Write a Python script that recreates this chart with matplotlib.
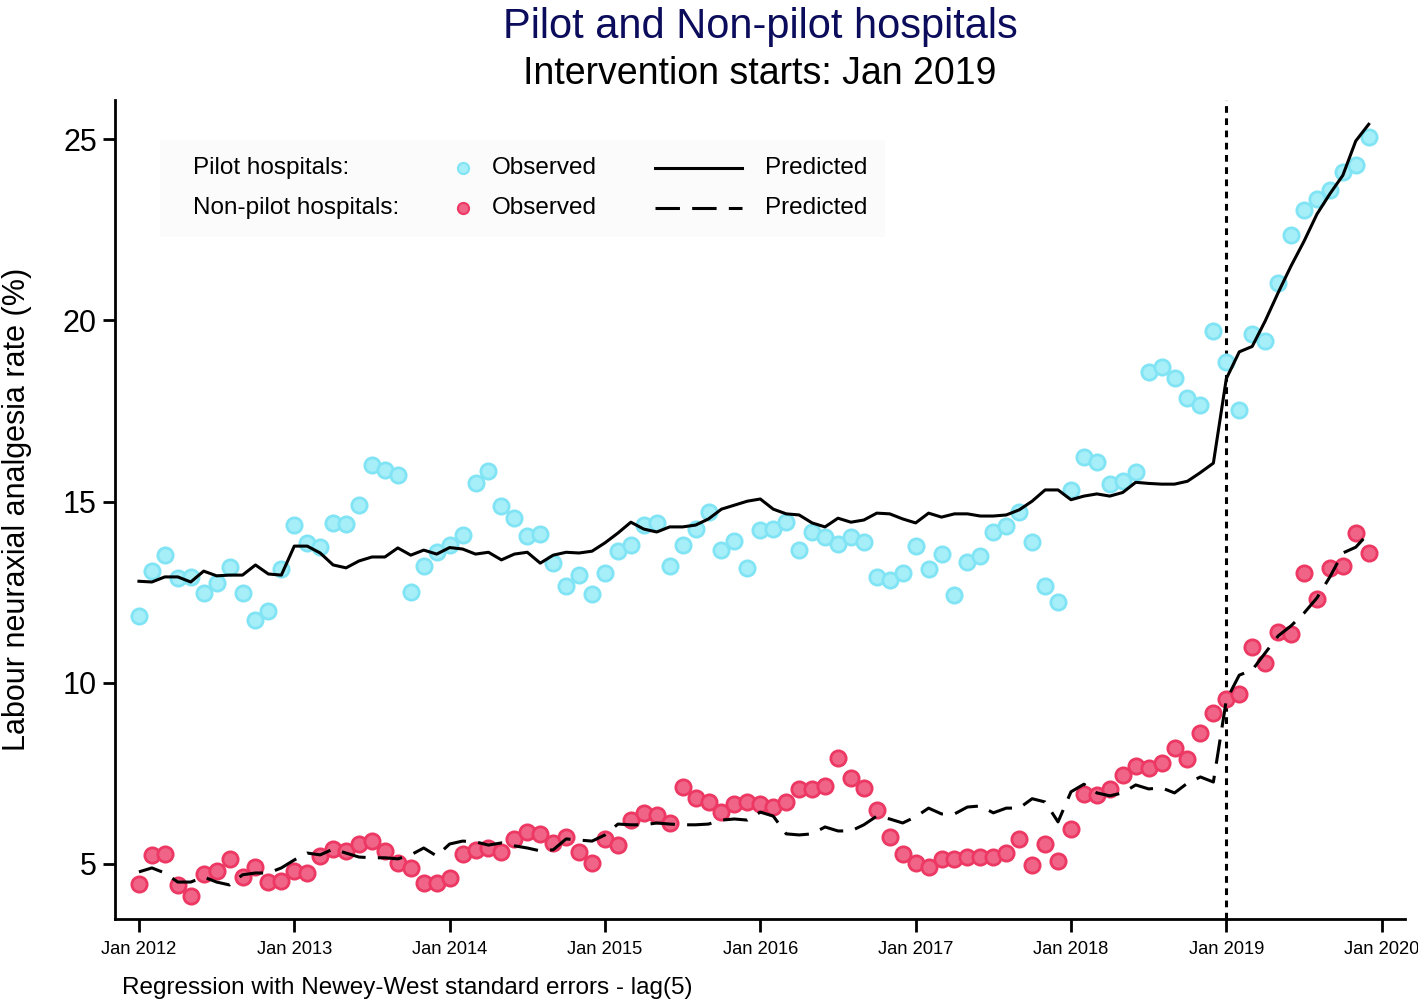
import matplotlib
matplotlib.use('Agg')
import matplotlib.pyplot as plt
from matplotlib.patches import Rectangle

plt.rcParams['font.family'] = ['Liberation Sans', 'DejaVu Sans']

# months since Jan 2012 (0 = Jan 2012)
months = list(range(96))

pilot_obs = [11.84, 13.08, 13.52, 12.89, 12.92, 12.48, 12.75, 13.19, 12.48, 11.73, 11.98, 13.14,
             14.35, 13.86, 13.74, 14.41, 14.38, 14.90, 16.00, 15.87, 15.73, 12.50, 13.22, 13.60,
             13.80, 14.08, 15.51, 15.84, 14.88, 14.54, 14.05, 14.10, 13.30, 12.67, 12.97, 12.45,
             13.03, 13.63, 13.80, 14.35, 14.41, 13.22, 13.80, 14.24, 14.71, 13.66, 13.91, 13.17,
             14.21, 14.24, 14.43, 13.66, 14.16, 14.02, 13.83, 14.02, 13.88, 12.92, 12.83, 13.03,
             13.77, 13.14, 13.55, 12.42, 13.33, 13.50, 14.16, 14.32, 14.71, 13.88, 12.67, 12.23,
             15.32, 16.23, 16.09, 15.48, 15.57, 15.81, 18.57, 18.71, 18.41, 17.86, 17.66, 19.70,
             18.85, 17.52, 19.62, 19.43, 21.02, 22.35, 23.05, 23.34, 23.59, 24.08, 24.28, 25.06]

pilot_pred = [12.80, 12.78, 12.92, 12.92, 12.78, 13.08, 12.95, 12.97, 12.97, 13.25, 13.00, 12.97,
              13.77, 13.77, 13.58, 13.25, 13.17, 13.36, 13.47, 13.47, 13.72, 13.52, 13.66, 13.55,
              13.73, 13.69, 13.55, 13.60, 13.39, 13.55, 13.60, 13.30, 13.52, 13.60, 13.58, 13.63,
              13.86, 14.13, 14.43, 14.24, 14.16, 14.30, 14.30, 14.35, 14.52, 14.79, 14.90, 15.01,
              15.07, 14.79, 14.66, 14.63, 14.41, 14.30, 14.54, 14.43, 14.49, 14.68, 14.66, 14.52,
              14.41, 14.68, 14.57, 14.66, 14.66, 14.60, 14.60, 14.63, 14.77, 15.01, 15.32, 15.32,
              15.05, 15.15, 15.21, 15.15, 15.25, 15.53, 15.50, 15.48, 15.48, 15.56, 15.80, 16.06,
              18.39, 19.13, 19.28, 19.98, 20.76, 21.50, 22.18, 22.93, 23.49, 24.00, 24.95, 25.41]

nonpilot_obs = [4.45, 5.25, 5.28, 4.42, 4.12, 4.72, 4.81, 5.14, 4.64, 4.92, 4.50, 4.53,
                4.81, 4.75, 5.22, 5.41, 5.36, 5.55, 5.63, 5.36, 5.03, 4.89, 4.48, 4.48,
                4.61, 5.28, 5.39, 5.44, 5.33, 5.69, 5.88, 5.83, 5.58, 5.75, 5.33, 5.03,
                5.69, 5.52, 6.21, 6.41, 6.35, 6.13, 7.12, 6.82, 6.71, 6.43, 6.66, 6.71,
                6.66, 6.57, 6.71, 7.08, 7.07, 7.15, 7.92, 7.37, 7.10, 6.49, 5.74, 5.28,
                5.03, 4.92, 5.14, 5.14, 5.19, 5.19, 5.19, 5.30, 5.69, 4.97, 5.55, 5.08,
                5.97, 6.93, 6.91, 7.07, 7.46, 7.71, 7.65, 7.79, 8.20, 7.90, 8.61, 9.16,
                9.55, 9.69, 10.99, 10.55, 11.40, 11.34, 13.03, 12.31, 13.17, 13.22, 14.13, 13.58]

nonpilot_pred = [4.78, 4.89, 4.75, 4.50, 4.50, 4.64, 4.50, 4.42, 4.70, 4.75, 4.75, 4.89,
                 5.11, 5.30, 5.25, 5.41, 5.30, 5.19, 5.17, 5.17, 5.14, 5.25, 5.44, 5.22,
                 5.55, 5.63, 5.61, 5.52, 5.58, 5.50, 5.44, 5.36, 5.39, 5.69, 5.66, 5.63,
                 5.80, 6.10, 6.08, 6.08, 6.13, 6.10, 6.08, 6.08, 6.10, 6.21, 6.24, 6.21,
                 6.43, 6.32, 5.83, 5.80, 5.83, 6.02, 5.91, 5.91, 6.08, 6.32, 6.24, 6.13,
                 6.30, 6.54, 6.38, 6.38, 6.57, 6.60, 6.41, 6.54, 6.54, 6.80, 6.71, 6.16,
                 6.99, 7.20, 6.96, 6.88, 6.96, 7.18, 7.07, 7.10, 6.96, 7.23, 7.40, 7.26,
                 9.52, 10.21, 10.35, 10.82, 11.29, 11.57, 11.92, 12.34, 12.92, 13.58, 13.74, 14.13]

tick_pos = [0, 12, 24, 36, 48, 60, 72, 84, 96]
tick_labels = ['Jan 2012', 'Jan 2013', 'Jan 2014', 'Jan 2015', 'Jan 2016',
               'Jan 2017', 'Jan 2018', 'Jan 2019', 'Jan 2020']
intervention = 84

cyan_face, cyan_edge = '#a6eef8', '#80e4f4'
red_face, red_edge = '#f06488', '#ec3862'

fig = plt.figure(figsize=(14.18, 10.01), dpi=100)
ax = fig.add_axes([0.0811, 0.0819, 0.9097, 0.8182])

ax.plot(months, pilot_obs, 'o', ms=11, mfc=cyan_face, mec=cyan_edge, mew=2, zorder=3)
ax.plot(months, nonpilot_obs, 'o', ms=11, mfc=red_face, mec=red_edge, mew=2, zorder=3)
ax.plot(months, pilot_pred, '-', color='black', lw=2.2, zorder=4)
dl, = ax.plot(months, nonpilot_pred, '-', color='black', lw=2.2, zorder=4)
dl.set_dashes((8, 4))
ax.axvline(intervention, color='black', lw=2.2, ls=(0, (2.2, 1.8)), zorder=2)

ax.set_xlim(-1.85, 97.8)
ax.set_ylim(3.48, 26.08)
ax.set_xticks(tick_pos)
ax.set_xticklabels(tick_labels, fontsize=13.2)
ax.set_yticks([5, 10, 15, 20, 25])
ax.tick_params(axis='y', labelsize=22, length=9, width=2, pad=4)
ax.tick_params(axis='x', length=9, width=2, pad=7)
for s in ['top', 'right']:
    ax.spines[s].set_visible(False)
for s in ['left', 'bottom']:
    ax.spines[s].set_linewidth(2)
ax.set_ylabel('Labour neuraxial analgesia rate (%)', fontsize=22, labelpad=22)

fig.text(0.536, 1 - 38 / 1001, 'Pilot and Non-pilot hospitals', ha='center', va='baseline',
         fontsize=30, color='#0c0c5c')
fig.text(0.536, 1 - 84 / 1001, 'Intervention starts: Jan 2019', ha='center', va='baseline',
         fontsize=27, color='black')
fig.text(0.086, 0.013, 'Regression with Newey-West standard errors - lag(5)',
         ha='left', va='center', fontsize=17.5)

# legend drawn by hand, in axes coordinates
def ax_xy(px, py):
    return (px - 115) / 1290, (919 - py) / 819

x0, y0 = ax_xy(160, 237)
x1, y1 = ax_xy(885, 140)
ax.add_patch(Rectangle((x0, y0), x1 - x0, y1 - y0, transform=ax.transAxes,
                       facecolor='#fbfbfb', edgecolor='none', zorder=1))
rows = [(168, 'Pilot hospitals:', cyan_face, cyan_edge, '-'),
        (208, 'Non-pilot hospitals:', red_face, red_edge, '--')]
for py, name, fc, ec, style in rows:
    tx, ty = ax_xy(193, py)
    ax.text(tx, ty, name, transform=ax.transAxes, fontsize=17.5, va='center', ha='left')
    mx, _ = ax_xy(463, py)
    ax.plot([mx], [ty], 'o', ms=8, mfc=fc, mec=ec, mew=1.5, transform=ax.transAxes, clip_on=False)
    ox, _ = ax_xy(492, py)
    ax.text(ox, ty, 'Observed', transform=ax.transAxes, fontsize=17.5, va='center', ha='left')
    la, _ = ax_xy(655, py)
    lb, _ = ax_xy(742, py)
    ln, = ax.plot([la, lb], [ty, ty], color='black', lw=2.2, transform=ax.transAxes, clip_on=False)
    if style == '--':
        ln.set_dashes((8, 4))
    px_, _ = ax_xy(765, py)
    ax.text(px_, ty, 'Predicted', transform=ax.transAxes, fontsize=17.5, va='center', ha='left')

fig.savefig('out.png', dpi=100)
